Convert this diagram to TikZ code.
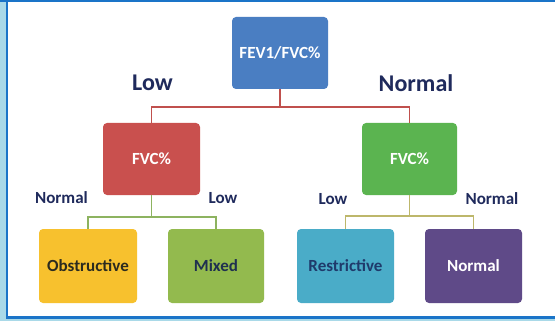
\documentclass[tikz,border=0pt]{standalone}
\usepackage{fontspec}
\setmainfont{Carlito}
\definecolor{framedark}{HTML}{1A74C8}
\definecolor{framelight}{HTML}{A9D9E8}
\definecolor{cblue}{HTML}{4A7EC2}
\definecolor{cred}{HTML}{C9504E}
\definecolor{cgreen}{HTML}{5BB450}
\definecolor{cyellow}{HTML}{F7C12E}
\definecolor{colive}{HTML}{93BA4E}
\definecolor{cteal}{HTML}{4AACC8}
\definecolor{cpurple}{HTML}{5F4A88}
\definecolor{navy}{HTML}{1F2A5C}
\definecolor{tobs}{HTML}{2B2B1F}
\definecolor{tmix}{HTML}{1F3050}
\definecolor{tres}{HTML}{1F3A6B}
\definecolor{lred}{HTML}{C0504D}
\definecolor{lgreen}{HTML}{8DB360}
\definecolor{lolive}{HTML}{BDB76B}
\tikzset{
  box/.style={rounded corners=4pt, inner sep=0pt, minimum height=72pt, minimum width=96pt, font=\fontsize{17}{19}\selectfont\bfseries},
  lbl/.style={inner sep=0pt, text=navy, font=\fontsize{17}{19}\selectfont\bfseries},
  biglbl/.style={inner sep=0pt, text=navy, font=\fontsize{24}{26}\selectfont\bfseries},
  conn/.style={line width=1.5pt}
}
\begin{document}
\begin{tikzpicture}[x=1pt,y=-1pt]
\useasboundingbox (0,0) rectangle (555,321);
% frame
\fill[white] (0,0) rectangle (555,321);
\fill[framelight] (0,0) rectangle (6,321);
\fill[framelight] (0,318) rectangle (555,321);
\fill[framedark] (0,0) rectangle (555,2);
\fill[framedark] (6,0) rectangle (8,318);
\fill[framedark] (6,316) rectangle (555,318.5);
% boxes
\node[box, fill=cblue, text=white] (top) at (280,53) {FEV1/FVC\%};
\node[box, fill=cred, text=white, minimum width=97pt] (fvcl) at (151.5,159) {FVC\%};
\node[box, fill=cgreen, text=white, minimum width=95pt] (fvcr) at (409.5,159) {FVC\%};
\node[box, fill=cyellow, text=tobs, minimum width=98pt, minimum height=74pt] (obs) at (88,266) {Obstructive};
\node[box, fill=colive, text=tmix, minimum height=74pt] (mix) at (216,266) {Mixed};
\node[box, fill=cteal, text=tres, minimum width=97pt, minimum height=74pt] (res) at (345.5,266) {Restrictive};
\node[box, fill=cpurple, text=white, minimum width=97pt, minimum height=74pt] (nor) at (473.5,266) {Normal};
% labels
\node[biglbl] (lowtop) at (152.5,83) {Low};
\node[biglbl] (normtop) at (416,83) {Normal};
\node[lbl] (normleft) at (61.5,198) {Normal};
\node[lbl] (lowleft) at (223,198) {Low};
\node[lbl] (lowright) at (333,199) {Low};
\node[lbl] (normright) at (492,199) {Normal};
% connectors
\coordinate (j1) at (280,107);
\coordinate (j2) at (151.5,217);
\coordinate (j3) at (409.5,216);
\draw[conn, lred] (top.south) -- (j1) -| (fvcl.north);
\draw[conn, lred] (j1) -| (fvcr.north);
\draw[conn, lgreen] (fvcl.south) -- (j2) -| (obs.north);
\draw[conn, lgreen] (j2) -| (mix.north);
\draw[conn, lolive] (fvcr.south) -- (j3) -| (res.north);
\draw[conn, lolive] (j3) -| (nor.north);
\end{tikzpicture}
\end{document}
